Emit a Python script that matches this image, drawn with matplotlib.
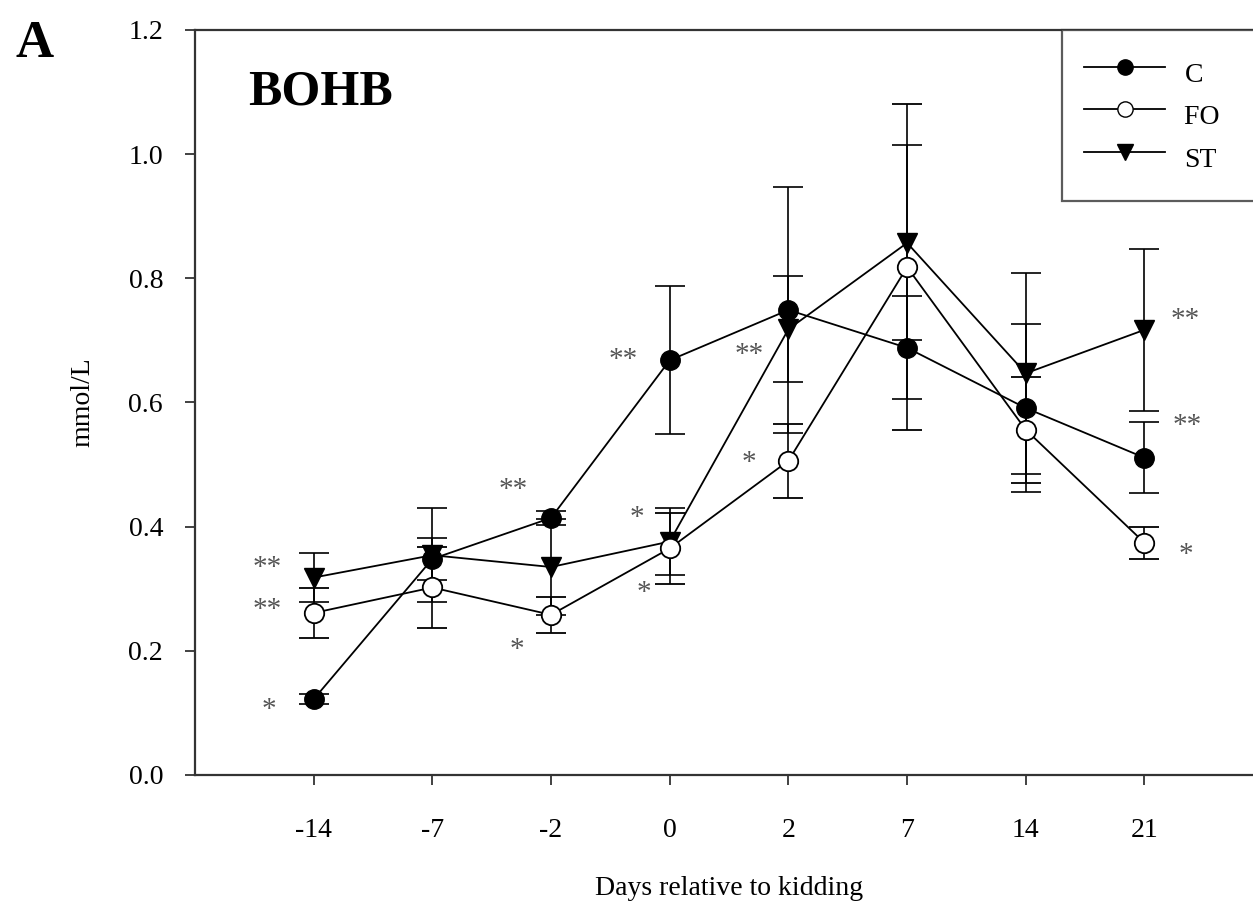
import numpy as np
import matplotlib.pyplot as plt
from matplotlib.lines import Line2D

days = ["-14", "-7", "-2", "0", "2", "7", "14", "21"]

c_mean = [0.122, 0.348, 0.414, 0.668, 0.749, 0.688, 0.591, 0.511]
c_err = [0.008, 0.034, 0.012, 0.119, 0.198, 0.083, 0.135, 0.057]

fo_mean = [0.261, 0.302, 0.258, 0.365, 0.506, 0.818, 0.556, 0.374]
fo_err = [0.040, 0.065, 0.029, 0.057, 0.060, 0.263, 0.085, 0.026]

st_mean = [0.318, 0.354, 0.335, 0.376, 0.718, 0.857, 0.647, 0.717]
st_err = [0.040, 0.076, 0.078, 0.054, 0.085, 0.157, 0.162, 0.131]

# significance marks: (x index, y, text)
stars_x = [-0.39, -0.39, -0.38, 1.68, 1.71, 2.61, 2.72, 2.78, 3.67, 3.67, 7.34, 7.36, 7.35]
stars_y = [0.333, 0.266, 0.105, 0.459, 0.201, 0.668, 0.414, 0.293, 0.676, 0.502, 0.733, 0.562, 0.354]
stars_txt = ["**", "**", "*", "**", "*", "**", "*", "*", "**", "*", "**", "**", "*"]

plt.rcParams['font.family'] = ['Liberation Serif', 'DejaVu Serif']
plt.rcParams['font.size'] = 20

fig = plt.figure(figsize=(12.53, 9.11), dpi=100)
ax = fig.add_axes([0.1556, 0.1493, 0.8525, 0.8178])

x = np.arange(len(days))
common = dict(color='black', lw=1.3, ms=14, capsize=11, capthick=1.2, elinewidth=1.2)

ax.errorbar(x, c_mean, yerr=c_err, marker='o', mfc='black', mec='black',
            zorder=3, **common)
ax.errorbar(x, fo_mean, yerr=fo_err, marker='o', mfc='white', mec='black',
            mew=1.3, zorder=4, **common)
ax.errorbar(x, st_mean, yerr=st_err, marker='v', mfc='black', mec='black',
            zorder=3, **common)

for sx, sy, st in zip(stars_x, stars_y, stars_txt):
    ax.text(sx, sy, st, ha='center', va='center', color='#555555', fontsize=21)

ax.set_xlim(-1.0, 8.0)
ax.set_ylim(0, 1.2)
ax.set_xticks(x)
ax.set_xticklabels(days)
ax.set_yticks(np.arange(0, 1.21, 0.2))
ax.set_yticklabels([f"{v:.1f}" for v in np.arange(0, 1.21, 0.2)])

for s in ax.spines.values():
    s.set_linewidth(1.6)
    s.set_color('#333333')
ax.tick_params(direction='out', length=7, width=1.3, color='#333333')
ax.tick_params(axis='y', pad=16)
ax.tick_params(axis='x', pad=24)

ax.set_xlabel("Days relative to kidding", labelpad=24)
ax.set_ylabel("mmol/L", labelpad=24)

ax.text(0.05, 0.916, "BOHB", transform=ax.transAxes, fontsize=36,
        fontweight='bold', va='center', ha='left')
fig.text(0.012, 0.952, "A", fontsize=38, fontweight='bold', va='center', ha='left')

handles = [
    Line2D([], [], color='black', lw=1.3, marker='o', ms=11, mfc='black', mec='black'),
    Line2D([], [], color='black', lw=1.3, marker='o', ms=11, mfc='white', mec='black'),
    Line2D([], [], color='black', lw=1.3, marker='v', ms=11, mfc='black', mec='black'),
]
leg = ax.legend(handles, ['C', 'FO   ', 'ST'], loc='upper right',
                bbox_to_anchor=(1.0, 1.0), frameon=True, fancybox=False,
                edgecolor='#333333', borderaxespad=0, handlelength=2.9,
                handletextpad=0.7, borderpad=0.8, labelspacing=0.05,
                handleheight=1.9, fontsize=20)
leg.get_frame().set_linewidth(1.6)

fig.savefig("out.png", dpi=100)
